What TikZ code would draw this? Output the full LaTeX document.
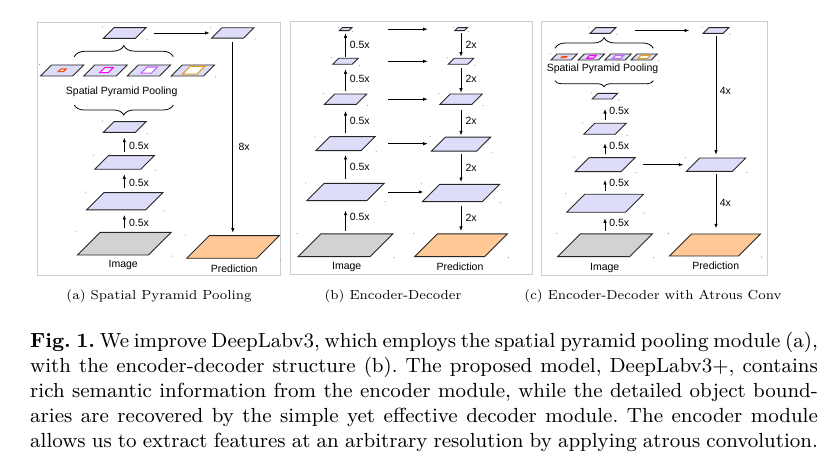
\documentclass[tikz,border=0pt]{standalone}
\usepackage{fontspec}
\newfontfamily\arialf{Liberation Sans}
\usetikzlibrary{arrows.meta,decorations.pathreplacing,calc}
\definecolor{lav}{RGB}{221,221,250}
\definecolor{imgc}{RGB}{210,210,210}
\definecolor{predc}{RGB}{255,200,150}
\definecolor{framec}{RGB}{205,205,205}
\definecolor{mred}{RGB}{245,80,20}
\definecolor{mmag}{RGB}{255,0,255}
\definecolor{mvio}{RGB}{200,100,255}
\definecolor{mora}{RGB}{225,160,30}
\tikzset{
 pg/.style={draw=black!85, line width=0.9pt, line join=miter},
 pgbox/.style={rectangle, inner sep=0pt, outer sep=0pt},
 arr/.style={line width=0.7pt, -{Latex[length=4.5pt,width=3.4pt]}},
 lbl/.style={font=\arialf\fontsize{10.5}{12}\selectfont, inner sep=0pt},
 framebox/.style={draw=framec, line width=0.9pt},
 brc/.style={draw, line width=0.8pt, decorate, decoration={brace, amplitude=#1}},
 brc/.default=8,
 subcap/.style={inner sep=0pt, anchor=base},
}
\newcommand\subcaptext[1]{\scalebox{1.87}{\fontsize{7}{8}\selectfont #1}}
% name, cx, cy, w, h, fill
\newcommand\pgram[6]{%
 \pgfmathsetmacro\pgL{#2-(#4+#5)/2}%
 \pgfmathsetmacro\pgR{#2+(#4+#5)/2}%
 \pgfmathsetmacro\pgT{#3-#5/2}%
 \pgfmathsetmacro\pgB{#3+#5/2}%
 \pgfmathsetmacro\pgW{#4+#5}%
 \filldraw[pg, fill=#6] (\pgL,\pgB) -- ++(#4,0) -- (\pgR,\pgT) -- ++(-#4,0) -- cycle;
 \fill[black!45] (\pgL-1,\pgT-0.5) circle[radius=0.55pt] (\pgR+1,\pgB+1) circle[radius=0.55pt];
 \node[pgbox, minimum width=\pgW pt, minimum height=#5pt] (#1) at (#2,#3) {};
}
% cx, cy, w, h, colour, fill
\newcommand\pmark[6]{%
 \pgfmathsetmacro\pgL{#1-(#3+#4)/2}%
 \pgfmathsetmacro\pgR{#1+(#3+#4)/2}%
 \pgfmathsetmacro\pgT{#2-#4/2}%
 \pgfmathsetmacro\pgB{#2+#4/2}%
 \filldraw[draw=#5, fill=#6, line width=1.1pt] (\pgL,\pgB) -- ++(#3,0) -- (\pgR,\pgT) -- ++(-#3,0) -- cycle;
}
\begin{document}
\begin{tikzpicture}[x=1pt,y=-1pt]
\useasboundingbox[fill=white] (0,0) rectangle (836,465);
%% ---------------- panel (a)
\draw[framebox] (37,22) rectangle (280,275);
\pgram{aimg}{124.3}{243.7}{71}{22.7}{imgc}
\pgram{a3}{124.8}{201.3}{59}{17.3}{lav}
\pgram{a2}{124.5}{162.5}{46}{13.6}{lav}
\pgram{a1}{124.7}{127}{32}{10.7}{lav}
\draw[brc=10] (173.3,105) -- (74.3,105);
\node[lbl] (aspp) at (121.7,91.7) {Spatial Pyramid Pooling};
\pgram{as1}{62.2}{70.5}{32.3}{11}{lav}
\pgram{as2}{105.5}{70.5}{32.3}{11}{lav}
\pgram{as3}{148.9}{70.5}{32.3}{11}{lav}
\pgram{as4}{192.9}{70.5}{32.3}{11}{lav}
\pmark{62.2}{70.3}{5}{2.6}{mred}{white}
\pmark{106.5}{70.1}{8.5}{5}{mmag}{white}
\pmark{149.3}{70.1}{10.5}{6.2}{mvio}{white}
\pmark{193.6}{70.2}{14.5}{7.8}{mora}{white}
\draw[brc=11] (74.3,56.7) -- (173.3,56.7);
\pgram{atop}{124.7}{33}{32}{10.7}{lav}
\pgram{aout}{232.8}{33}{32}{10.4}{lav}
\pgram{apred}{233}{247}{70}{22.6}{predc}
\node[lbl] (aimgl) at (123.2,265) {Image};
\node[lbl] (apredl) at (234.2,268.3) {Prediction};
\draw[arr, shorten <=8pt, shorten >=2pt] (atop.east) -- (aout.west);
\draw[arr, shorten <=4pt, shorten >=3pt] (aout.south) -- (aout.south |- apred.north)
  node[lbl, pos=0.55, anchor=west, xshift=5.5pt] {8x};
\draw[arr, shorten <=4pt, shorten >=5pt] (aimg.north) -- (aimg.north |- a3.south)
  node[lbl, midway, anchor=west, xshift=4.5pt, yshift=-1.5pt] {0.5x};
\draw[arr, shorten <=4.4pt, shorten >=5pt] (aimg.north |- a3.north) -- (aimg.north |- a2.south)
  node[lbl, midway, anchor=west, xshift=4.5pt, yshift=-1.5pt] {0.5x};
\draw[arr, shorten <=4pt, shorten >=5.4pt] (aimg.north |- a2.north) -- (aimg.north |- a1.south)
  node[lbl, midway, anchor=west, xshift=4.5pt, yshift=-1.5pt] {0.5x};
%% ---------------- panel (b)
\draw[framebox] (290,21) rectangle (532,274);
\pgram{bimg}{345.5}{245.3}{72}{22.7}{imgc}
\pgram{be1}{345.5}{192}{60}{17.3}{lav}
\pgram{be2}{345.5}{143.7}{45.3}{14}{lav}
\pgram{be3}{345.5}{99.2}{32}{10.3}{lav}
\pgram{be4}{345.5}{61.3}{19.6}{6}{lav}
\pgram{be5}{345.5}{29.2}{9.4}{3}{lav}
\pgram{bpred}{461}{245.3}{70}{22.7}{predc}
\pgram{bd1}{461}{193}{60}{17.3}{lav}
\pgram{bd2}{461}{144.2}{45.3}{14}{lav}
\pgram{bd3}{461}{99.2}{32}{10.3}{lav}
\pgram{bd4}{461}{61.3}{19.6}{6}{lav}
\pgram{bd5}{461}{29.2}{9.4}{3}{lav}
\node[lbl] (bimgl) at (346.7,266.7) {Image};
\node[lbl] (bpredl) at (460,266.7) {Prediction};
\draw[arr, shorten <=3pt, shorten >=10pt] (bimg.north) -- (be1.south)
  node[lbl, midway, anchor=west, xshift=4pt] {0.5x};
\draw[arr, shorten <=4pt, shorten >=4.3pt] (be1.north) -- (be2.south)
  node[lbl, midway, anchor=west, xshift=4pt] {0.5x};
\draw[arr, shorten <=3.4pt, shorten >=6.7pt] (be2.north) -- (be3.south)
  node[lbl, midway, anchor=west, xshift=4pt] {0.5x};
\draw[arr, shorten <=3pt, shorten >=5pt] (be3.north) -- (be4.south)
  node[lbl, midway, anchor=west, xshift=4pt] {0.5x};
\draw[arr, shorten <=1.6pt, shorten >=2.6pt] (be4.north) -- (be5.south)
  node[lbl, midway, anchor=west, xshift=4pt] {0.5x};
\draw[arr, shorten <=2.6pt, shorten >=1.6pt] (bd5.south) -- (bd4.north)
  node[lbl, midway, anchor=west, xshift=4.3pt] {2x};
\draw[arr, shorten <=4pt, shorten >=1.3pt] (bd4.south) -- (bd3.north)
  node[lbl, midway, anchor=west, xshift=4.3pt] {2x};
\draw[arr, shorten <=5.7pt, shorten >=1.7pt] (bd3.south) -- (bd2.north)
  node[lbl, midway, anchor=west, xshift=4.3pt] {2x};
\draw[arr, shorten <=3.3pt, shorten >=2.3pt] (bd2.south) -- (bd1.north)
  node[lbl, midway, anchor=west, xshift=4.3pt] {2x};
\draw[arr, shorten <=4pt, shorten >=3pt] (bd1.south) -- (bpred.north)
  node[lbl, midway, anchor=west, xshift=4.3pt] {2x};
\coordinate (bL) at (388.3,0);
\coordinate (bR) at (427.7,0);
\draw[arr] (bL |- be5) -- (bR |- be5);
\draw[arr] (bL |- be4) -- (bR |- be4);
\draw[arr] (bL |- be3) -- (bR |- be3);
\draw[arr] (bL |- be2) -- (bR |- be2);
\draw[arr, shorten >=4.4pt] (bL |- be1) -- (bR |- be1);
%% ---------------- panel (c)
\draw[framebox] (541,21) rectangle (767,275);
\pgram{cimg}{605}{245.3}{72}{22.7}{imgc}
\pgram{ce1}{605}{203.3}{58.7}{18}{lav}
\pgram{ce2}{605}{164.7}{46}{14}{lav}
\pgram{ce3}{605}{128.8}{31.4}{11}{lav}
\pgram{ce4}{605}{96.2}{19.7}{5.7}{lav}
\draw[brc=6] (653.3,80.7) -- (555,80.7);
\node[lbl] (cspp) at (602.5,68.3) {Spatial Pyramid Pooling};
\pgram{cs1}{564.2}{57}{20.3}{6}{lav}
\pgram{cs2}{591.3}{57}{20.3}{6}{lav}
\pgram{cs3}{618}{57}{20.3}{6}{lav}
\pgram{cs4}{644.2}{57}{20.3}{6}{lav}
\pmark{564.2}{57}{4.5}{1.2}{mred}{mred}
\pmark{591.3}{57}{6.5}{2.6}{mmag}{white}
\pmark{618}{57}{8}{3}{mvio}{white}
\pmark{644.2}{57}{9.5}{3.4}{mora}{white}
\draw[brc=10.6] (555,48.3) -- (653.3,48.3);
\pgram{ctop}{603}{30.5}{20}{5.7}{lav}
\pgram{cout}{716}{30.5}{20}{5.7}{lav}
\pgram{cd}{716}{164.7}{46}{13.3}{lav}
\pgram{cpred}{715}{245}{69}{22}{predc}
\node[lbl] (cimgl) at (604.7,268.3) {Image};
\node[lbl] (cpredl) at (715.8,265.7) {Prediction};
\draw[arr, shorten <=3pt, shorten >=6pt] (cimg.north) -- (ce1.south)
  node[lbl, midway, anchor=west, xshift=4pt] {0.5x};
\draw[arr, shorten <=3.3pt, shorten >=8.3pt] (ce1.north) -- (ce2.south)
  node[lbl, midway, anchor=west, xshift=4pt] {0.5x};
\draw[arr, shorten <=3.4pt, shorten >=9pt] (ce2.north) -- (ce3.south)
  node[lbl, midway, anchor=west, xshift=4pt] {0.5x};
\draw[arr, shorten <=3.3pt, shorten >=10pt] (ce3.north) -- (ce4.south)
  node[lbl, midway, anchor=west, xshift=4pt] {0.5x};
\draw[arr, shorten <=19pt, shorten >=14pt] (ctop.east) -- (cout.west);
\draw[arr, shorten <=8pt, shorten >=3pt] (ce2.east) -- (cd.west);
\draw[arr, shorten <=2.4pt, shorten >=3.4pt] (cout.south) -- (cd.north)
  node[lbl, pos=0.46, anchor=west, xshift=3.5pt] {4x};
\draw[arr, shorten <=2.3pt, shorten >=5.7pt] (cd.south) -- (cd.south |- cpred.north)
  node[lbl, midway, anchor=west, xshift=3.5pt] {4x};
%% ---------------- sub-captions
\node[subcap] (capa) at (159,300) {\subcaptext{(a) Spatial Pyramid Pooling}};
\node[subcap] (capb) at (393,300) {\subcaptext{(b) Encoder-Decoder}};
\node[subcap] (capc) at (653,300) {\subcaptext{(c) Encoder-Decoder with Atrous Conv}};
%% ---------------- caption
\node[anchor=base west, inner sep=0pt] (cap) at (30,348) {\scalebox{2.27}{\parbox[t]{347pt}{\fontsize{9}{11}\selectfont\parindent=0pt\frenchspacing
\makebox[347pt][s]{\textbf{Fig. 1.} We improve DeepLabv3, which employs the spatial pyramid pooling module (a),}\par
\makebox[347pt][s]{with the encoder-decoder structure (b). The proposed model, DeepLabv3+, contains}\par
\makebox[347pt][s]{rich semantic information from the encoder module, while the detailed object bound-}\par
\makebox[347pt][s]{aries are recovered by the simple yet effective decoder module. The encoder module}\par
\makebox[347pt][s]{allows us to extract features at an arbitrary resolution by applying atrous convolution.}}}};
\end{tikzpicture}
\end{document}
